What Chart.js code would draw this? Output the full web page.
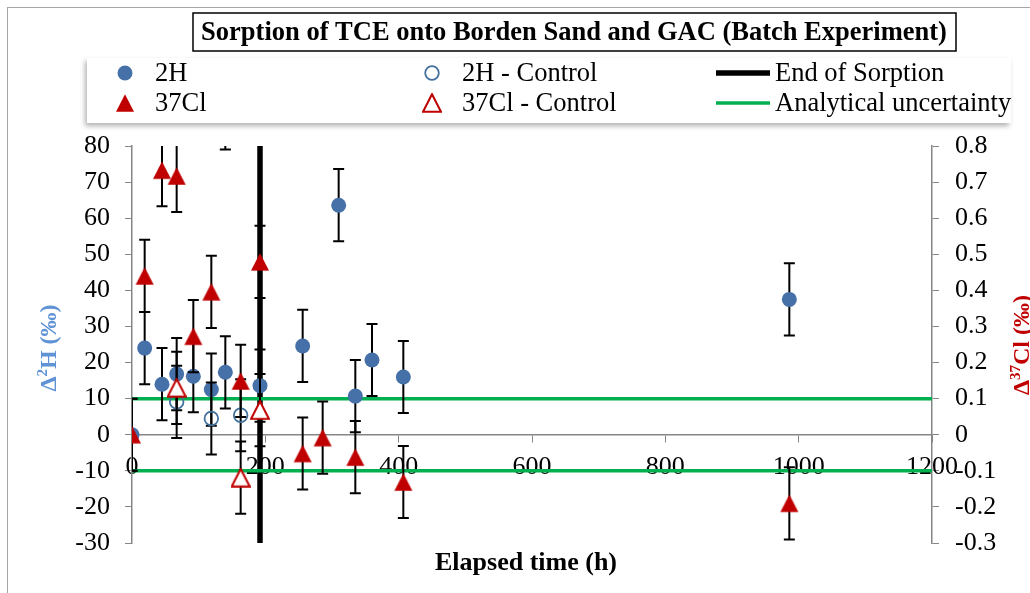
<!DOCTYPE html>
<html>
<head>
<meta charset="utf-8">
<script src="https://cdn.jsdelivr.net/npm/chart.js@4/dist/chart.umd.min.js"></script>
<style>
  html, body { margin: 0; padding: 0; background: #fff; }
</style>
</head>
<body>
<canvas id="myChart" width="1030" height="593"></canvas>
<script>
// elapsed time (h) and isotope shifts, read per sample
const hTime = [0, 19, 45, 67, 92, 119, 140, 192, 256, 310, 335, 360, 407, 986];
const hShift = [0, 24.0, 14.0, 16.8, 16.2, 12.5, 17.3, 13.6, 24.6, 63.6, 10.7, 20.7, 16.0, 37.5];
const hControlTime = [67, 119, 163];
const hControlShift = [9.1, 4.5, 5.4];
const clTime = [0, 19, 45, 67, 92, 119, 140, 163, 192, 256, 286, 335, 407, 986];
const clShift = [0, 0.44, 0.733, 0.717, 0.273, 0.396, 0.89, 0.149, 0.479, -0.052, -0.008, -0.062, -0.131, -0.19];
const clControlTime = [67, 163, 192];
const clControlShift = [0.13, -0.119, 0.068];

const hError = 10;
const clError = 0.1;
const endOfSorption = 192;
const uncertainty = 10;

// axis ranges
const xRange = [0, 1200, 200];
const hRange = [-30, 80, 10];
const clRange = [-0.3, 0.8, 0.1];

const blue = '#4670A8';
const red = '#C00000';
const green = '#00B050';
const serif = "'Liberation Serif', 'Times New Roman', serif";

const toPoints = (xs, ys) => xs.map((x, i) => ({x: x, y: ys[i]}));

// triangle marker as a small canvas so it sits centred on the value
function makeTriangle(filled) {
    const c = document.createElement('canvas');
    c.width = 20;
    c.height = 20;
    const g = c.getContext('2d');
    g.beginPath();
    g.moveTo(10, 1.2);
    g.lineTo(19, 18.8);
    g.lineTo(1, 18.8);
    g.closePath();
    if (filled) {
        g.fillStyle = red;
        g.fill();
    } else {
        g.fillStyle = '#fff';
        g.fill();
        g.lineWidth = 2;
        g.strokeStyle = red;
        g.stroke();
    }
    return c;
}
const triFilled = makeTriangle(true);
const triOpen = makeTriangle(false);

const data = {
    datasets: [{
        label: '2H',
        data: toPoints(hTime, hShift),
        yAxisID: 'y',
        pointStyle: 'circle',
        pointRadius: 7.5,
        pointBackgroundColor: blue,
        pointBorderColor: blue,
        pointBorderWidth: 0,
        showLine: false,
        errorBar: hError,
        order: 4
    }, {
        label: '2H - Control',
        data: toPoints(hControlTime, hControlShift),
        yAxisID: 'y',
        pointStyle: 'circle',
        pointRadius: 6.8,
        pointBackgroundColor: 'rgba(255,255,255,0)',
        pointBorderColor: '#41719C',
        pointBorderWidth: 1.8,
        showLine: false,
        errorBar: hError,
        order: 3
    }, {
        label: 'End of Sorption',
        data: [{x: endOfSorption, y: hRange[0]}, {x: endOfSorption, y: hRange[1]}],
        yAxisID: 'y',
        showLine: true,
        borderColor: '#000',
        borderWidth: 5.5,
        pointRadius: 0,
        order: 7
    }, {
        label: '37Cl',
        data: toPoints(clTime, clShift),
        yAxisID: 'y2',
        pointStyle: triFilled,
        pointRadius: 10,
        showLine: false,
        errorBar: clError,
        order: 2
    }, {
        label: '37Cl - Control',
        data: toPoints(clControlTime, clControlShift),
        yAxisID: 'y2',
        pointStyle: triOpen,
        pointRadius: 10,
        showLine: false,
        errorBar: clError,
        order: 1
    }, {
        label: 'Analytical uncertainty',
        data: [{x: xRange[0], y: uncertainty}, {x: xRange[1], y: uncertainty}],
        yAxisID: 'y',
        showLine: true,
        borderColor: green,
        borderWidth: 3.5,
        pointRadius: 0,
        order: 5
    }, {
        label: 'Analytical uncertainty (lower)',
        data: [{x: xRange[0], y: -uncertainty}, {x: xRange[1], y: -uncertainty}],
        yAxisID: 'y',
        showLine: true,
        borderColor: green,
        borderWidth: 3.5,
        pointRadius: 0,
        order: 6
    }]
};

// vertical error bars, drawn just under each series' markers
const errorBars = {
    id: 'errorBars',
    beforeDatasetDraw: (chart, args) => {
        const ds = chart.data.datasets[args.index];
        if (!ds.errorBar) return;
        const {ctx, chartArea} = chart;
        const yScale = chart.scales[ds.yAxisID];
        ctx.save();
        ctx.beginPath();
        ctx.rect(chartArea.left, chartArea.top, chartArea.right - chartArea.left, chartArea.bottom - chartArea.top);
        ctx.clip();
        ctx.strokeStyle = '#000';
        ctx.lineWidth = 2;
        ds.data.forEach((p, i) => {
            const x = args.meta.data[i].x;
            const top = yScale.getPixelForValue(p.y + ds.errorBar);
            const bottom = yScale.getPixelForValue(p.y - ds.errorBar);
            ctx.beginPath();
            ctx.moveTo(x, top);
            ctx.lineTo(x, bottom);
            ctx.moveTo(x - 5.5, top);
            ctx.lineTo(x + 5.5, top);
            ctx.moveTo(x - 5.5, bottom);
            ctx.lineTo(x + 5.5, bottom);
            ctx.stroke();
        });
        ctx.restore();
    }
};

// text made of pieces, some raised as superscripts
function drawRich(ctx, parts, cx, cy, color) {
    let total = 0;
    parts.forEach(p => {
        ctx.font = 'bold ' + p.size + 'px ' + serif;
        p.w = ctx.measureText(p.text).width;
        total += p.w;
    });
    let x = cx - total / 2;
    ctx.fillStyle = color;
    ctx.textAlign = 'left';
    ctx.textBaseline = 'alphabetic';
    parts.forEach(p => {
        ctx.font = 'bold ' + p.size + 'px ' + serif;
        ctx.fillText(p.text, x, cy + 8 - (p.rise || 0));
        x += p.w;
    });
}

const legendCols = [125, 432, 743];
const legendRows = [73, 103];
const legendItems = [[0, 0, 0], [1, 1, 0], [2, 2, 0], [3, 0, 1], [4, 1, 1], [5, 2, 1]];

const decorations = {
    id: 'decorations',
    beforeDraw: (chart) => {
        const ctx = chart.ctx;
        ctx.save();
        ctx.fillStyle = '#fff';
        ctx.fillRect(0, 0, chart.width, chart.height);
        ctx.strokeStyle = '#a6a6a6';
        ctx.lineWidth = 1;
        ctx.strokeRect(7.5, 7.5, 1100, 700);
        ctx.restore();
    },
    afterDraw: (chart) => {
        const ctx = chart.ctx;
        ctx.save();

        // title in a box
        ctx.strokeStyle = '#000';
        ctx.lineWidth = 1.5;
        ctx.strokeRect(193, 13, 763, 38);
        ctx.fillStyle = '#000';
        ctx.font = 'bold 26.5px ' + serif;
        ctx.textAlign = 'center';
        ctx.textBaseline = 'middle';
        ctx.fillText('Sorption of TCE onto Borden Sand and GAC (Batch Experiment)', 574, 33);

        // legend box with soft shadow
        ctx.save();
        ctx.shadowColor = 'rgba(0,0,0,0.3)';
        ctx.shadowBlur = 5;
        ctx.shadowOffsetX = -2;
        ctx.shadowOffsetY = 3;
        ctx.fillStyle = '#fff';
        ctx.fillRect(87, 58, 924, 65);
        ctx.restore();

        legendItems.forEach(([di, col, row]) => {
            const ds = chart.data.datasets[di];
            const x = legendCols[col];
            const y = legendRows[row];
            let tx = x + 30;
            if (ds.showLine) {
                ctx.strokeStyle = ds.borderColor;
                ctx.lineWidth = ds.borderWidth;
                ctx.beginPath();
                ctx.moveTo(x - 27, y);
                ctx.lineTo(x + 27, y);
                ctx.stroke();
                tx = x + 32;
            } else if (ds.pointStyle === 'circle') {
                ctx.beginPath();
                ctx.arc(x, y, ds.pointRadius, 0, Math.PI * 2);
                if (ds.pointBorderWidth > 0) {
                    ctx.lineWidth = ds.pointBorderWidth;
                    ctx.strokeStyle = ds.pointBorderColor;
                    ctx.stroke();
                } else {
                    ctx.fillStyle = ds.pointBackgroundColor;
                    ctx.fill();
                }
            } else {
                ctx.drawImage(ds.pointStyle, x - 10, y - 10);
            }
            ctx.fillStyle = '#000';
            ctx.font = '26.5px ' + serif;
            ctx.textAlign = 'left';
            ctx.textBaseline = 'middle';
            ctx.fillText(ds.label, tx, y + 1);
        });

        // axis titles
        ctx.font = 'bold 26px ' + serif;
        ctx.textAlign = 'center';
        ctx.textBaseline = 'middle';
        ctx.fillStyle = '#000';
        ctx.fillText('Elapsed time (h)', 526, 563);

        ctx.save();
        ctx.translate(48, 348);
        ctx.rotate(-Math.PI / 2);
        drawRich(ctx, [{text: 'Δ', size: 24}, {text: '2', size: 15, rise: 9}, {text: 'H (‰)', size: 24}], 0, 0, '#5F93D6');
        ctx.restore();

        ctx.save();
        ctx.translate(1021, 345);
        ctx.rotate(-Math.PI / 2);
        drawRich(ctx, [{text: 'Δ', size: 24}, {text: '37', size: 15, rise: 9}, {text: 'Cl (‰)', size: 24}], 0, 0, red);
        ctx.restore();

        ctx.restore();
    }
};

const tickFont = {family: serif, size: 26};
const axisGrid = {drawOnChartArea: false, tickLength: 7, color: '#868686'};

const config = {
    type: 'scatter',
    data,
    options: {
        responsive: false,
        animation: false,
        layout: {padding: {top: 146, bottom: 50, left: 0, right: 0}},
        plugins: {
            legend: {display: false},
            tooltip: {enabled: false}
        },
        scales: {
            x: {
                type: 'linear',
                position: {y: 0},
                min: xRange[0],
                max: xRange[1],
                ticks: {
                    stepSize: xRange[2], font: tickFont, color: '#000', padding: 10, maxRotation: 0, autoSkip: false,
                    callback: (v) => String(v)
                },
                grid: axisGrid,
                border: {color: '#868686', width: 1.5}
            },
            y: {
                position: 'left',
                min: hRange[0],
                max: hRange[1],
                ticks: {stepSize: hRange[2], font: tickFont, color: '#000', padding: 15, autoSkip: false},
                grid: axisGrid,
                border: {color: '#868686', width: 1.5},
                afterFit: (scale) => { scale.width = 132; }
            },
            y2: {
                position: 'right',
                min: clRange[0],
                max: clRange[1],
                ticks: {
                    stepSize: clRange[2], font: tickFont, color: '#000', padding: 16, autoSkip: false,
                    callback: (v) => String(Math.round(v * 10) / 10)
                },
                grid: axisGrid,
                border: {color: '#868686', width: 1.5},
                afterFit: (scale) => { scale.width = 98; }
            }
        }
    },
    plugins: [errorBars, decorations]
};

const myChart = new Chart(document.getElementById('myChart'), config);
</script>
</body>
</html>
